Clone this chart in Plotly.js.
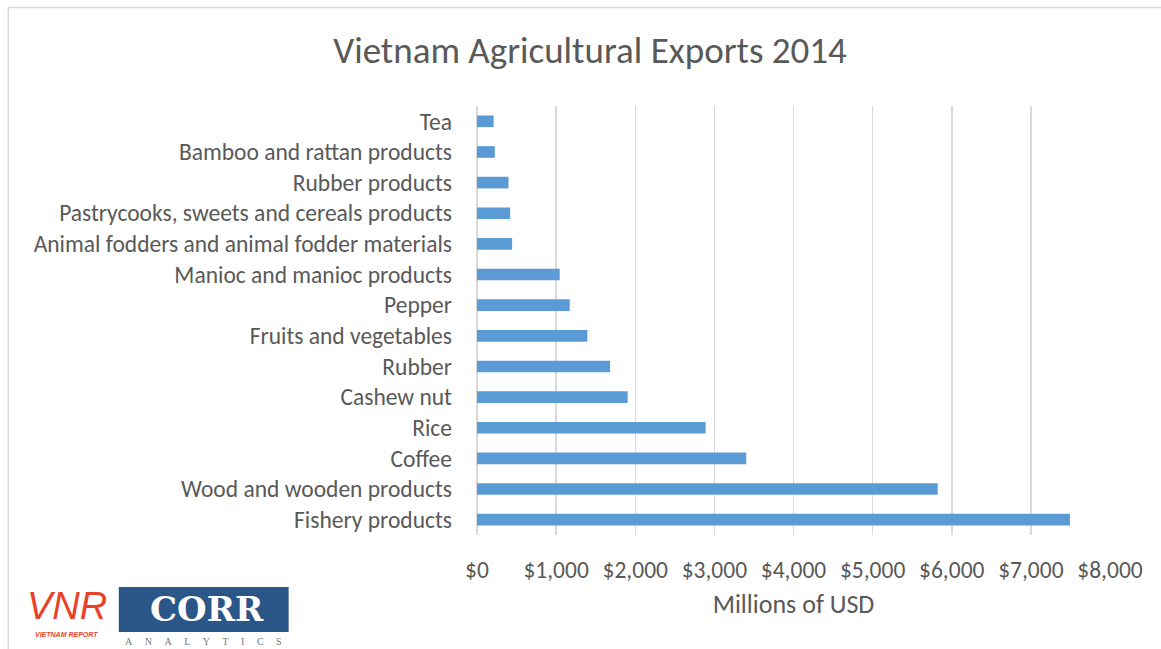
<!DOCTYPE html>
<html>
<head>
<meta charset="utf-8">
<script src="https://cdn.plot.ly/plotly-3.0.1.min.js"></script>
<style>html,body{margin:0;padding:0;background:#fff;}#chart{width:1161px;height:649px;}</style>
</head>
<body>
<div id="chart"></div>
<script>
// Data (millions of USD), top to bottom as displayed
const categories = [
  "Tea",
  "Bamboo and rattan products",
  "Rubber products",
  "Pastrycooks, sweets and cereals products",
  "Animal fodders and animal fodder materials",
  "Manioc and manioc products",
  "Pepper",
  "Fruits and vegetables",
  "Rubber",
  "Cashew nut",
  "Rice",
  "Coffee",
  "Wood and wooden products",
  "Fishery products"
];
const exportValues = [210, 225, 398, 419, 444, 1045, 1172, 1395, 1682, 1904, 2889, 3403, 5823, 7494];
const tickValues = [0, 1000, 2000, 3000, 4000, 5000, 6000, 7000, 8000];
const tickLabels = ["$0", "$1,000", "$2,000", "$3,000", "$4,000", "$5,000", "$6,000", "$7,000", "$8,000"];

const W = 1161, H = 649;
const M = {l: 476.5, r: 51, t: 106, b: 114};
const PW = W - M.l - M.r, PH = H - M.t - M.b;
const px = x => (x - M.l) / PW;
const py = y => (H - M.b - y) / PH;

const FONT = "Carlito, Calibri, Lato, sans-serif";

const trace = {
  type: "bar",
  orientation: "h",
  y: categories,
  x: exportValues,
  marker: {color: "#5B9BD5", line: {width: 0}},
  hoverinfo: "x+y"
};

const sp = "&nbsp;&nbsp;&nbsp;&nbsp;&nbsp;";
const analytics = ["A","N","A","L","Y","T","I","C","S"].join(sp);

const layout = {
  width: W, height: H,
  margin: M,
  paper_bgcolor: "#ffffff",
  plot_bgcolor: "#ffffff",
  bargap: 0.62,
  showlegend: false,
  font: {family: FONT, color: "#595959"},
  title: {
    text: "Vietnam Agricultural Exports 2014",
    font: {family: FONT, size: 37, color: "#595959"},
    x: 590 / W, xref: "container", xanchor: "center",
    y: 1 - 50 / H, yref: "container", yanchor: "middle"
  },
  xaxis: {
    range: [0, 8000],
    tickvals: tickValues,
    ticktext: tickLabels,
    tickfont: {family: FONT, size: 23.5, color: "#595959"},
    showgrid: true, gridcolor: "#D9D9D9", gridwidth: 1.5,
    zeroline: true, zerolinecolor: "#D9D9D9", zerolinewidth: 1.5,
    showline: false, ticks: "", ticklen: 0,
    ticklabelstandoff: 18,
    title: {text: "Millions of USD", font: {family: FONT, size: 26, color: "#595959"}, standoff: 12},
    fixedrange: true
  },
  yaxis: {
    categoryorder: "array",
    categoryarray: categories.slice().reverse(),
    autorange: true,
    tickfont: {family: FONT, size: 23.5, color: "#595959"},
    showgrid: false, showline: false, ticks: "", ticklen: 0,
    ticklabelstandoff: 24,
    fixedrange: true
  },
  shapes: [
    // outer chart border (top and left visible)
    {type: "line", xref: "paper", yref: "paper", x0: px(7.5), x1: px(1161), y0: py(7.5), y1: py(7.5), line: {color: "#D9D9D9", width: 1.5}},
    {type: "line", xref: "paper", yref: "paper", x0: px(7.5), x1: px(7.5), y0: py(7.5), y1: py(649), line: {color: "#D9D9D9", width: 1.5}},
    // CORR logo box
    {type: "rect", xref: "paper", yref: "paper", x0: px(118), x1: px(288), y0: py(587), y1: py(632), fillcolor: "#2B5788", line: {width: 0}, layer: "above"}
  ],
  annotations: [
    {xref: "paper", yref: "paper", x: px(66), y: py(606), xanchor: "center", yanchor: "middle", showarrow: false,
     text: "<i>VNR</i>", font: {family: "Liberation Sans Narrow, Liberation Sans, sans-serif", size: 38, color: "#E8432A"}},
    {xref: "paper", yref: "paper", x: px(66), y: py(634), xanchor: "center", yanchor: "middle", showarrow: false,
     text: "<b><i>VIETNAM REPORT</i></b>", font: {family: "Liberation Sans, Arial, sans-serif", size: 7, color: "#E8432A"}},
    {xref: "paper", yref: "paper", x: px(206), y: py(609), xanchor: "center", yanchor: "middle", showarrow: false,
     text: "<b>CORR</b>", font: {family: "DejaVu Serif, Liberation Serif, serif", size: 34, color: "#FFFFFF"}},
    {xref: "paper", yref: "paper", x: px(203), y: py(641), xanchor: "center", yanchor: "middle", showarrow: false,
     text: analytics,
     font: {family: "Liberation Serif, DejaVu Serif, serif", size: 10, color: "#777777"}}
  ]
};

Plotly.newPlot("chart", [trace], layout, {displayModeBar: false, staticPlot: true});
</script>
</body>
</html>
